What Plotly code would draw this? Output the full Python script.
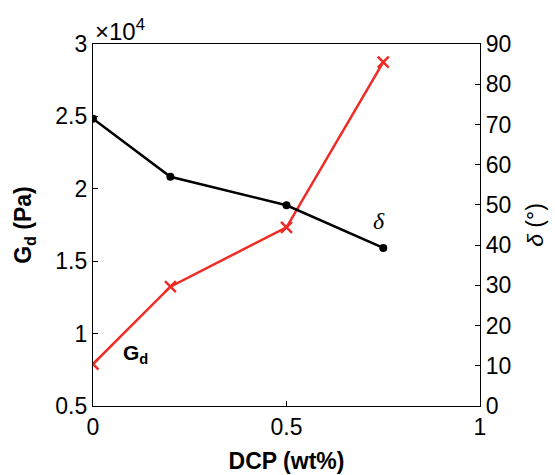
import plotly.graph_objects as go

dcp = [0, 0.2, 0.5, 0.75]
gd_pa = [7900, 13240, 17340, 28740]
delta_deg = [71.4, 57.0, 49.9, 39.3]

gd_ticks = [5000, 10000, 15000, 20000, 25000, 30000]
gd_ticklabels = ["0.5", "1", "1.5", "2", "2.5", "3"]
x_ticks = [0, 0.5, 1]
x_ticklabels = ["0", "0.5", "1"]

RED = "rgb(238,43,36)"
FONT = "Liberation Sans, Arial, sans-serif"

fig = go.Figure()
fig.add_trace(go.Scatter(
    x=dcp, y=gd_pa, mode="lines+markers", name="Gd",
    line=dict(color=RED, width=2.5),
    marker=dict(symbol="x-thin", size=11, line=dict(color=RED, width=2.5)),
    yaxis="y", showlegend=False))
fig.add_trace(go.Scatter(
    x=dcp, y=delta_deg, mode="lines+markers", name="delta",
    line=dict(color="black", width=2.5),
    marker=dict(symbol="circle", size=8, color="black"),
    yaxis="y2", showlegend=False))

axis_common = dict(showline=True, linecolor="black", linewidth=1.3, ticks="inside",
                   ticklen=5, tickcolor="black", tickwidth=1.3, showgrid=False, zeroline=False,
                   automargin=False,
                   tickfont=dict(family=FONT, size=23, color="black"))

fig.update_layout(
    width=555, height=475,
    margin=dict(l=93, r=75, t=44, b=69),
    paper_bgcolor="white", plot_bgcolor="white",
    font=dict(family=FONT, size=23, color="black"),
    xaxis=dict(range=[0, 1], tickvals=x_ticks, ticktext=x_ticklabels, mirror=True,
               title=dict(text="<b>DCP (wt%)</b>", font=dict(size=23), standoff=14),
               **axis_common),
    yaxis=dict(range=[5000, 30000], tickvals=gd_ticks, ticktext=gd_ticklabels,
               title=dict(text="<b>G<sub>d</sub> (Pa)</b>", font=dict(size=23), standoff=17),
               **axis_common),
    yaxis2=dict(range=[0, 90], dtick=10, overlaying="y", side="right",
                title=dict(text="<i>δ</i> (°)", font=dict(size=23), standoff=16),
                **axis_common),
    annotations=[
        dict(text="×10<sup>4</sup>", xref="paper", yref="paper", x=0, y=1.0,
             xanchor="left", yanchor="bottom", showarrow=False, yshift=-3,
             font=dict(family=FONT, size=24)),
        dict(text="<i>δ</i>", xref="x", yref="y2", x=0.74, y=46, showarrow=False,
             font=dict(family="Liberation Serif, Times New Roman, serif", size=24)),
        dict(text="<b>G<sub>d</sub></b>", xref="x", yref="y", x=0.11, y=8600,
             showarrow=False, font=dict(family=FONT, size=21)),
    ],
)

fig.write_html("out.html")
